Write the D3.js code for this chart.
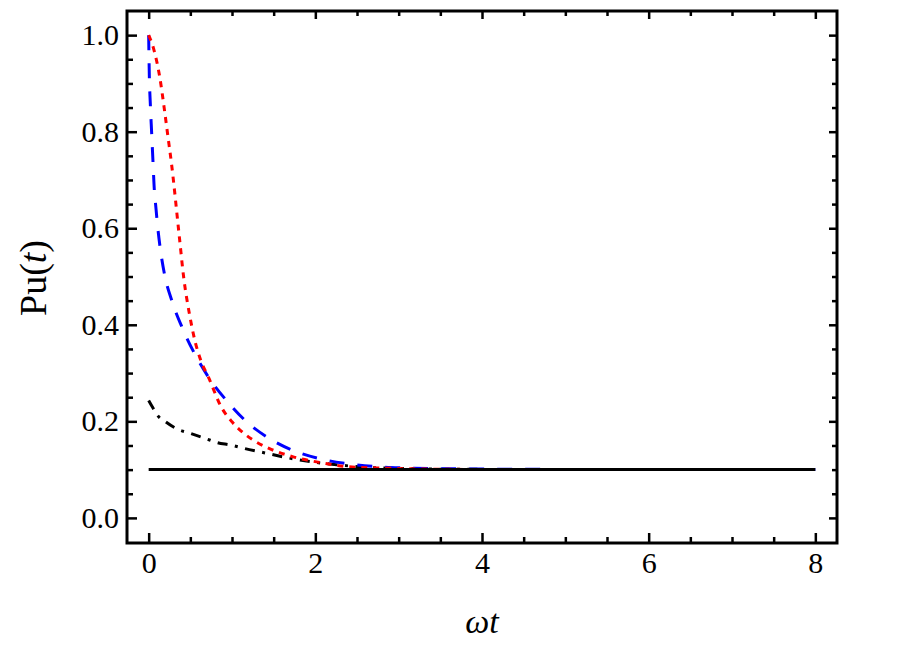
<!DOCTYPE html>
<html>
<head>
<meta charset="utf-8">
<script src="https://cdn.jsdelivr.net/npm/d3@7"></script>
<style>
  body { margin: 0; background: #fff; }
  svg text { font-family: "Liberation Serif", "Times New Roman", Times, serif; }
</style>
</head>
<body>
<svg id="chart" width="900" height="650"></svg>
<script>
const width = 900;
const height = 650;
const margin = ({top: 11, right: 63, bottom: 107, left: 127});

// curve values
const blueT = [0, 0.008, 0.02, 0.036, 0.052, 0.068, 0.084, 0.11, 0.136, 0.192, 0.284, 0.405, 0.552, 0.724, 0.945, 1.176, 1.444, 1.744, 2.065, 2.4, 2.745, 3.06, 3.5, 4, 5, 6, 7, 8];
const blueP = [1.0, 0.915, 0.857, 0.797, 0.737, 0.679, 0.648, 0.600, 0.562, 0.503, 0.447, 0.393, 0.340, 0.290, 0.241, 0.199, 0.165, 0.139, 0.122, 0.112, 0.106, 0.1035, 0.102, 0.1012, 0.1004, 0.1002, 0.1001, 0.1001];

const redT = [0, 0.064, 0.136, 0.184, 0.232, 0.276, 0.364, 0.424, 0.492, 0.552, 0.624, 0.724, 0.864, 1.0, 1.144, 1.284, 1.444, 1.744, 2.065, 2.4, 2.745, 3.06, 3.5, 4, 5, 6, 7, 8];
const redP = [1.0, 0.969, 0.910, 0.852, 0.789, 0.731, 0.589, 0.493, 0.420, 0.369, 0.327, 0.289, 0.232, 0.199, 0.175, 0.158, 0.144, 0.126, 0.1145, 0.106, 0.1035, 0.102, 0.1008, 0.1004, 0.1002, 0.1001, 0.1001, 0.1001];

const blackT = [0, 0.064, 0.104, 0.204, 0.344, 0.504, 0.704, 0.824, 0.984, 1.144, 1.384, 1.624, 1.944, 2.264, 2.584, 2.9, 3.5, 4, 5, 6, 7, 8];
const blackP = [0.243, 0.224, 0.213, 0.199, 0.184, 0.175, 0.163, 0.156, 0.151, 0.144, 0.135, 0.126, 0.1165, 0.110, 0.105, 0.103, 0.101, 0.1005, 0.1002, 0.1001, 0.1001, 0.1001];

const levelT = [0, 8];
const levelP = [0.1, 0.1];

const xMajor = [0, 2, 4, 6, 8];
const xMinor = [0.5, 1, 1.5, 2.5, 3, 3.5, 4.5, 5, 5.5, 6.5, 7, 7.5];
const yMajor = [0, 0.2, 0.4, 0.6, 0.8, 1.0];
const yMinor = [0.05, 0.1, 0.15, 0.25, 0.3, 0.35, 0.45, 0.5, 0.55, 0.65, 0.7, 0.75, 0.85, 0.9, 0.95];

const x = d3.scaleLinear()
  .domain([-0.26, 8.26])
  .range([margin.left, width - margin.right]);

const y = d3.scaleLinear()
  .domain([-0.052, 1.05])
  .range([height - margin.bottom, margin.top]);

const svg = d3.select("#chart");

const series = [
  {t: blackT, p: blackP, color: "#000", dash: "10,7.5,3,7.5"},
  {t: blueT, p: blueP, color: "#0000ff", dash: "15,13"},
  {t: redT, p: redP, color: "#ff0000", dash: "6,6"},
  {t: levelT, p: levelP, color: "#000", dash: null},
];

const line = d3.line()
  .x(d => x(d[0]))
  .y(d => y(d[1]))
  .curve(d3.curveMonotoneX);

// colored curves first, the flat solid line on top of them
svg.append("g")
  .selectAll("path")
  .data(series)
  .join("path")
  .attr("fill", "none")
  .attr("stroke", d => d.color)
  .attr("stroke-width", 3)
  .attr("stroke-dasharray", d => d.dash)
  .attr("d", d => line(d.t.map((t, i) => [t, d.p[i]])));

const styleTicks = g => {
  g.select(".domain").remove();
  g.selectAll(".tick line").attr("stroke", "#000").attr("stroke-width", 2.5);
  g.attr("font-family", null).attr("font-size", 30);
  g.selectAll(".tick text").attr("fill", "#000");
};

const xAxis = (g, axis, values, size, labels) => {
  g.call(axis(x).tickValues(values).tickSize(-size).tickPadding(9)
      .tickFormat(labels ? d3.format("d") : ""))
    .call(styleTicks);
};

const yAxis = (g, axis, values, size, labels) => {
  g.call(axis(y).tickValues(values).tickSize(-size).tickPadding(8)
      .tickFormat(labels ? d3.format(".1f") : ""))
    .call(styleTicks);
};

const bottom = height - margin.bottom;
const right = width - margin.right;

svg.append("g").attr("transform", `translate(0,${bottom})`).call(xAxis, d3.axisBottom, xMajor, 10, true);
svg.append("g").attr("transform", `translate(0,${bottom})`).call(xAxis, d3.axisBottom, xMinor, 6, false);
svg.append("g").attr("transform", `translate(0,${margin.top})`).call(xAxis, d3.axisTop, xMajor, 8, false);
svg.append("g").attr("transform", `translate(0,${margin.top})`).call(xAxis, d3.axisTop, xMinor, 5, false);

svg.append("g").attr("transform", `translate(${margin.left},0)`).call(yAxis, d3.axisLeft, yMajor, 10, true);
svg.append("g").attr("transform", `translate(${margin.left},0)`).call(yAxis, d3.axisLeft, yMinor, 6, false);
svg.append("g").attr("transform", `translate(${right},0)`).call(yAxis, d3.axisRight, yMajor, 8, false);
svg.append("g").attr("transform", `translate(${right},0)`).call(yAxis, d3.axisRight, yMinor, 5, false);

// frame
svg.append("rect")
  .attr("x", margin.left)
  .attr("y", margin.top)
  .attr("width", right - margin.left)
  .attr("height", bottom - margin.top)
  .attr("fill", "none")
  .attr("stroke", "#000")
  .attr("stroke-width", 3);

// axis titles
svg.append("text")
  .attr("x", (margin.left + right) / 2)
  .attr("y", 633)
  .attr("text-anchor", "middle")
  .attr("font-size", 34)
  .attr("font-style", "italic")
  .text("ωt");

const ylab = svg.append("text")
  .attr("transform", "translate(46,278) rotate(-90)")
  .attr("text-anchor", "middle")
  .attr("font-size", 38);
ylab.append("tspan").text("Pu(");
ylab.append("tspan").attr("font-style", "italic").text("t");
ylab.append("tspan").text(")");
</script>
</body>
</html>
